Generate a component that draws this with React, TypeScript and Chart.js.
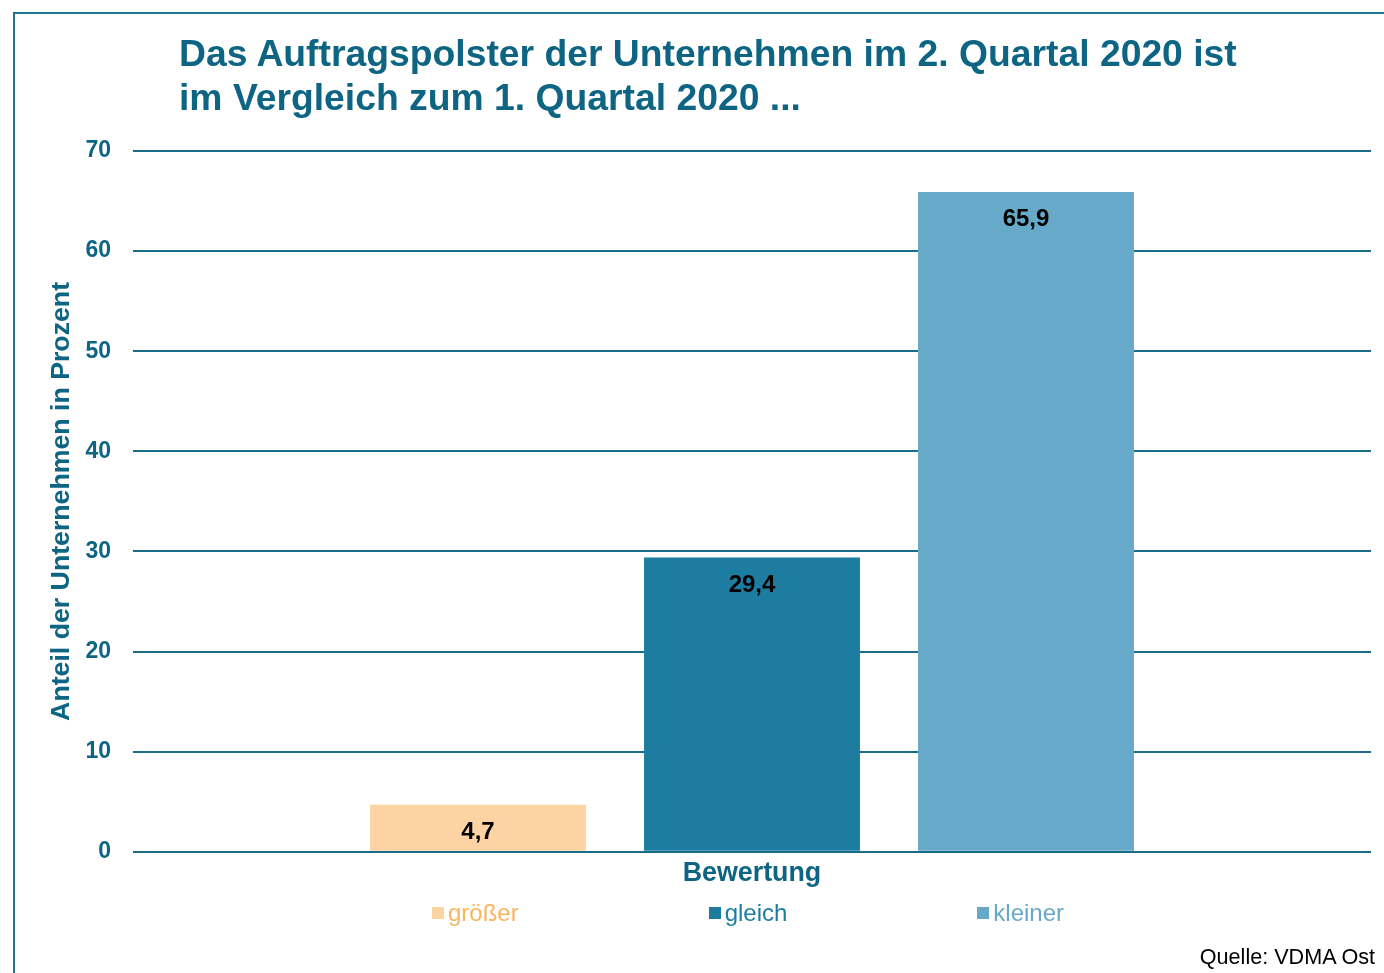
import React, { useEffect, useRef } from "react";
import { Chart, registerables } from "chart.js";

Chart.register(...registerables);

const categories = ["Bewertung"];
const seriesNames = ["größer", "gleich", "kleiner"];
const valuesGroesser = [4.7];
const valuesGleich = [29.4];
const valuesKleiner = [65.9];
const seriesValues = [valuesGroesser, valuesGleich, valuesKleiner];
const barColors = ["#fdd3a4", "#1c7da0", "#66a9c9"];
const legendTextColors = ["#f9b45e", "#1c7da0", "#66a9c9"];
const yMin = 0;
const yMax = 70;
const yStep = 10;

const titleLines = [
  "Das Auftragspolster der Unternehmen im 2. Quartal 2020 ist",
  "im Vergleich zum 1. Quartal 2020 ...",
];
const yAxisTitle = "Anteil der Unternehmen in Prozent";
const sourceText = "Quelle: VDMA Ost";

const TEAL = "#0e6583";
const GRID = "#1a6d89";
const FONT = "'Liberation Sans', Arial, sans-serif";

const valueLabelPlugin = {
  id: "valueLabels",
  afterDatasetsDraw(chart: any) {
    const ctx = chart.ctx;
    ctx.save();
    ctx.font = `bold 24px ${FONT}`;
    ctx.fillStyle = "#000000";
    ctx.textAlign = "center";
    ctx.textBaseline = "middle";
    chart.data.datasets.forEach((ds: any, i: number) => {
      const meta = chart.getDatasetMeta(i);
      meta.data.forEach((bar: any, j: number) => {
        const v = ds.data[j];
        const txt = String(v).replace(".", ",");
        ctx.fillText(txt, bar.x, bar.y + 27.5);
      });
    });
    ctx.restore();
  },
};

export default function App() {
  const canvasRef = useRef<HTMLCanvasElement | null>(null);

  useEffect(() => {
    if (!canvasRef.current) return;
    const chart = new Chart(canvasRef.current, {
      type: "bar",
      data: {
        labels: categories,
        datasets: seriesNames.map((name, i) => ({
          label: name,
          data: seriesValues[i],
          backgroundColor: barColors[i],
          borderWidth: 0,
          categoryPercentage: 0.664,
          barPercentage: 0.788,
        })),
      },
      options: {
        animation: false,
        responsive: false,
        maintainAspectRatio: false,
        layout: { padding: { top: 151, left: 46, right: 13, bottom: 77 } },
        plugins: {
          legend: { display: false },
          title: { display: false },
          tooltip: { enabled: false },
        },
        scales: {
          x: {
            grid: { display: false, drawTicks: false },
            border: { display: false },
            ticks: {
              color: TEAL,
              font: { family: FONT, size: 26.8, weight: "bold" },
              padding: 6,
            },
          },
          y: {
            min: yMin,
            max: yMax,
            grid: { color: GRID, lineWidth: 2, drawTicks: false },
            border: { display: false },
            ticks: {
              stepSize: yStep,
              color: TEAL,
              padding: 22,
              font: { family: FONT, size: 23, weight: "bold" },
            },
            title: {
              display: true,
              text: yAxisTitle,
              color: TEAL,
              font: { family: FONT, size: 26.7, weight: "bold" },
              padding: { top: 0, bottom: 9 },
            },
            afterFit(scale: any) {
              scale.width = 87;
            },
          },
        },
      },
      plugins: [valueLabelPlugin],
    });
    return () => chart.destroy();
  }, []);

  return (
    <div
      style={{
        position: "fixed",
        left: 0,
        top: 0,
        width: 1384,
        height: 973,
        overflow: "hidden",
        background: "#ffffff",
        fontFamily: FONT,
      }}
    >
      <div
        style={{
          position: "absolute",
          left: 13,
          top: 12,
          width: 1400,
          height: 1000,
          borderLeft: "2px solid #1e7390",
          borderTop: "2px solid #1e7390",
          boxSizing: "border-box",
        }}
      />
      <canvas
        ref={canvasRef}
        width={1384}
        height={973}
        style={{ position: "absolute", left: 0, top: 0, width: 1384, height: 973 }}
      />
      <div
        style={{
          position: "absolute",
          left: 179,
          top: 31,
          fontSize: 37.3,
          lineHeight: "44px",
          fontWeight: "bold",
          color: TEAL,
          whiteSpace: "nowrap",
        }}
      >
        {titleLines.map((l, i) => (
          <div key={i}>{l}</div>
        ))}
      </div>
      <div
        style={{
          position: "absolute",
          left: 129,
          width: 1238,
          top: 901,
          display: "flex",
          justifyContent: "center",
          gap: 190,
          fontSize: 24,
          lineHeight: "24px",
        }}
      >
        {seriesNames.map((name, i) => (
          <div key={name} style={{ display: "flex", alignItems: "center" }}>
            <span
              style={{
                display: "inline-block",
                width: 12,
                height: 12,
                background: barColors[i],
                marginRight: 4,
              }}
            />
            <span style={{ color: legendTextColors[i] }}>{name}</span>
          </div>
        ))}
      </div>
      <div
        style={{
          position: "absolute",
          right: 9,
          top: 946,
          fontSize: 21.6,
          lineHeight: "22px",
          color: "#000000",
          whiteSpace: "nowrap",
        }}
      >
        {sourceText}
      </div>
    </div>
  );
}
